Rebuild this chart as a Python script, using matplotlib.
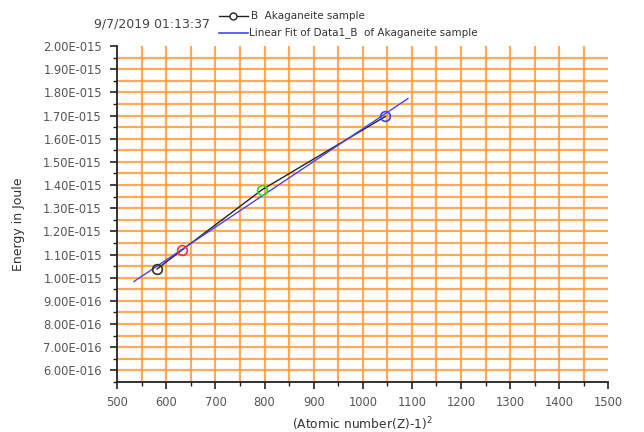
import numpy as np
import matplotlib
matplotlib.use("Agg")
import matplotlib.pyplot as plt
from matplotlib.lines import Line2D
from matplotlib.ticker import MultipleLocator, FuncFormatter

plt.rcParams['font.family'] = ['DejaVu Sans']

# data
x_vals = [581, 632, 795, 1046]               # (Z-1)^2
y_vals = [1.038e-15, 1.120e-15, 1.380e-15, 1.696e-15]  # energy, J
point_colors = ['#333333', '#ff3030', '#22dd22', '#3344ff']
fit_x_range = [534, 1092]
timestamp = "9/7/2019 01:13:37"
series_label = "B  Akaganeite sample"
fit_label = "Linear Fit of Data1_B  of Akaganeite sample"

W, H = 644, 432
fig = plt.figure(figsize=(W / 100, H / 100), dpi=100)
ax_l, ax_r, ax_t, ax_b = 117.3, 608.3, 46, 382
aw, ah = ax_r - ax_l, ax_b - ax_t
ax = fig.add_axes([ax_l / W, 1 - ax_b / H, aw / W, ah / H])

ax.set_xlim(500, 1500)
ax.set_ylim(0.55e-15, 2.0e-15)

# orange grid
grid_c = '#ff9d3a'
for gx in np.arange(550, 1451, 50):
    ax.axvline(gx, color=grid_c, lw=1.6, alpha=0.85, zorder=1)
for gy in np.arange(0.60, 1.951, 0.05):
    ax.axhline(gy * 1e-15, color=grid_c, lw=1.6, alpha=0.85, zorder=1)

# data line and markers
ax.plot(x_vals, y_vals, color='#222222', lw=1.0, zorder=3)
for xv, yv, c in zip(x_vals, y_vals, point_colors):
    ax.plot([xv], [yv], marker='o', ms=7, mfc='none', mec=c, mew=1.2, zorder=4)

# linear fit
slope, icpt = np.polyfit(x_vals, y_vals, 1)
fx = np.array(fit_x_range, dtype=float)
ax.plot(fx, slope * fx + icpt, color='#4444ff', lw=1.0, zorder=3)

# spines / ticks
for s in ['top', 'right']:
    ax.spines[s].set_visible(False)
for s in ['left', 'bottom']:
    ax.spines[s].set_linewidth(1.3)
    ax.spines[s].set_color('#222222')

ax.xaxis.set_major_locator(MultipleLocator(100))
ax.xaxis.set_minor_locator(MultipleLocator(50))
ax.yaxis.set_major_locator(MultipleLocator(0.1e-15))
ax.yaxis.set_minor_locator(MultipleLocator(0.05e-15))

def yfmt(v, pos):
    s = f"{v:.2E}"
    mant, exp = s.split('E')
    sign = exp[0]
    digits = exp[1:].zfill(3)
    return f"{mant}E{sign}{digits}"

ax.yaxis.set_major_formatter(FuncFormatter(yfmt))
ax.yaxis.offsetText.set_visible(False)
ax.xaxis.offsetText.set_visible(False)
ax.tick_params(axis='both', which='major', direction='out', length=5, width=1.2,
               labelsize=8.3, labelcolor='#555555', color='#222222')
ax.tick_params(axis='both', which='minor', direction='out', length=3, width=1.0, color='#222222')
ax.tick_params(axis='x', pad=5)
ax.tick_params(axis='y', pad=6)

ax.set_xlabel("(Atomic number(Z)-1)$^2$", fontsize=8.8, color='#333333', va='top')
ax.xaxis.set_label_coords((362 - ax_l) / aw, (ax_b - 415) / ah)
ax.set_ylabel("Energy in Joule", fontsize=9, color='#333333')
ax.yaxis.set_label_coords((25 - ax_l) / aw, 1 - (224 - ax_t) / ah)

# header text and legend
fig.text(94 / W, 1 - 24 / H, timestamp, fontsize=9, color='#444444', va='center', ha='left')
y1 = 1 - 16 / H
y2 = 1 - 33 / H
fig.add_artist(Line2D([219 / W, 248 / W], [y1, y1], color='#222222', lw=1.0, transform=fig.transFigure))
fig.add_artist(Line2D([233.5 / W], [y1], marker='o', ms=5, mfc='white', mec='#222222', mew=1.0,
                      transform=fig.transFigure))
fig.text(251 / W, y1, series_label, fontsize=7.5, color='#333333', va='center', ha='left')
fig.add_artist(Line2D([219 / W, 248 / W], [y2, y2], color='#4444ff', lw=1.2, transform=fig.transFigure))
fig.text(249 / W, y2, fit_label, fontsize=7.5, color='#333333', va='center', ha='left')

fig.savefig("out.png", dpi=100)
